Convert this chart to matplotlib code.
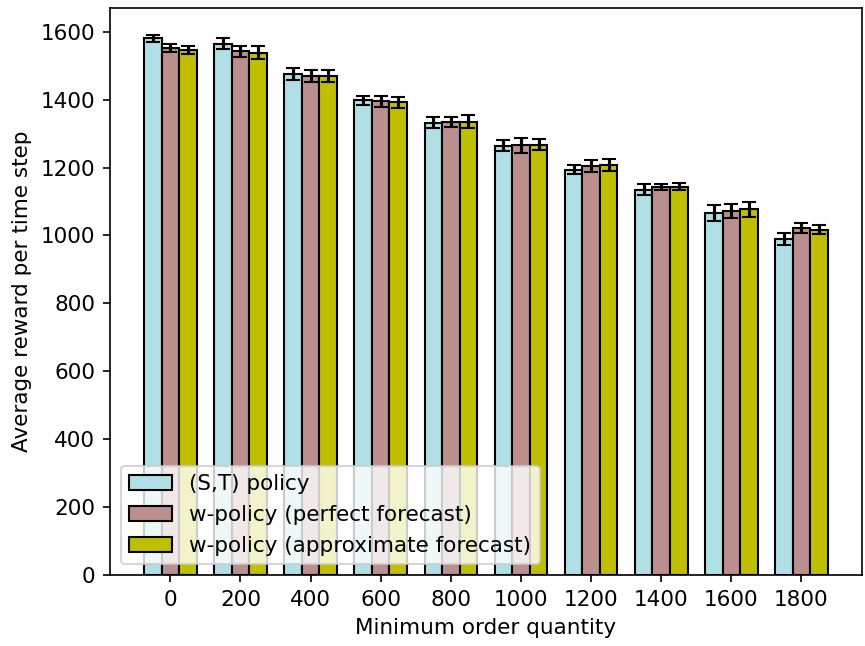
import matplotlib
matplotlib.use("Agg")
import matplotlib.pyplot as plt
import numpy as np

# minimum order quantities (x categories)
moq = [0, 200, 400, 600, 800, 1000, 1200, 1400, 1600, 1800]

st_mean = [1580, 1565, 1475, 1398, 1332, 1264, 1194, 1135, 1065, 990]
st_err = [11, 16, 18, 14, 16, 16, 14, 16, 24, 17]

perfect_mean = [1552, 1542, 1470, 1395, 1333, 1266, 1204, 1142, 1072, 1022]
perfect_err = [12, 16, 18, 16, 15, 22, 17, 9, 20, 15]

approx_mean = [1546, 1538, 1470, 1392, 1335, 1267, 1208, 1143, 1077, 1017]
approx_err = [11, 19, 18, 16, 19, 16, 17, 10, 22, 14]

labels = ["(S,T) policy", "w-policy (perfect forecast)", "w-policy (approximate forecast)"]
colors = ["powderblue", "rosybrown", "y"]

dpi = 150
plt.rcParams["font.size"] = 10.3
fig, ax = plt.subplots(figsize=(865 / dpi, 646 / dpi), dpi=dpi)
fig.subplots_adjust(left=0.127, right=0.9965, top=0.988, bottom=0.11)

x = np.arange(len(moq))
width = 0.25
series = [(st_mean, st_err), (perfect_mean, perfect_err), (approx_mean, approx_err)]
for i, (mean, err) in enumerate(series):
    ax.bar(x + (i - 1) * width, mean, width, yerr=err, capsize=3.5,
           color=colors[i], edgecolor="black", label=labels[i])

ax.set_xticks(x)
ax.set_xticklabels([str(m) for m in moq])
ax.set_xlabel("Minimum order quantity")
ax.set_ylabel("Average reward per time step")
ax.legend(loc="lower left")

fig.savefig("out.png")
